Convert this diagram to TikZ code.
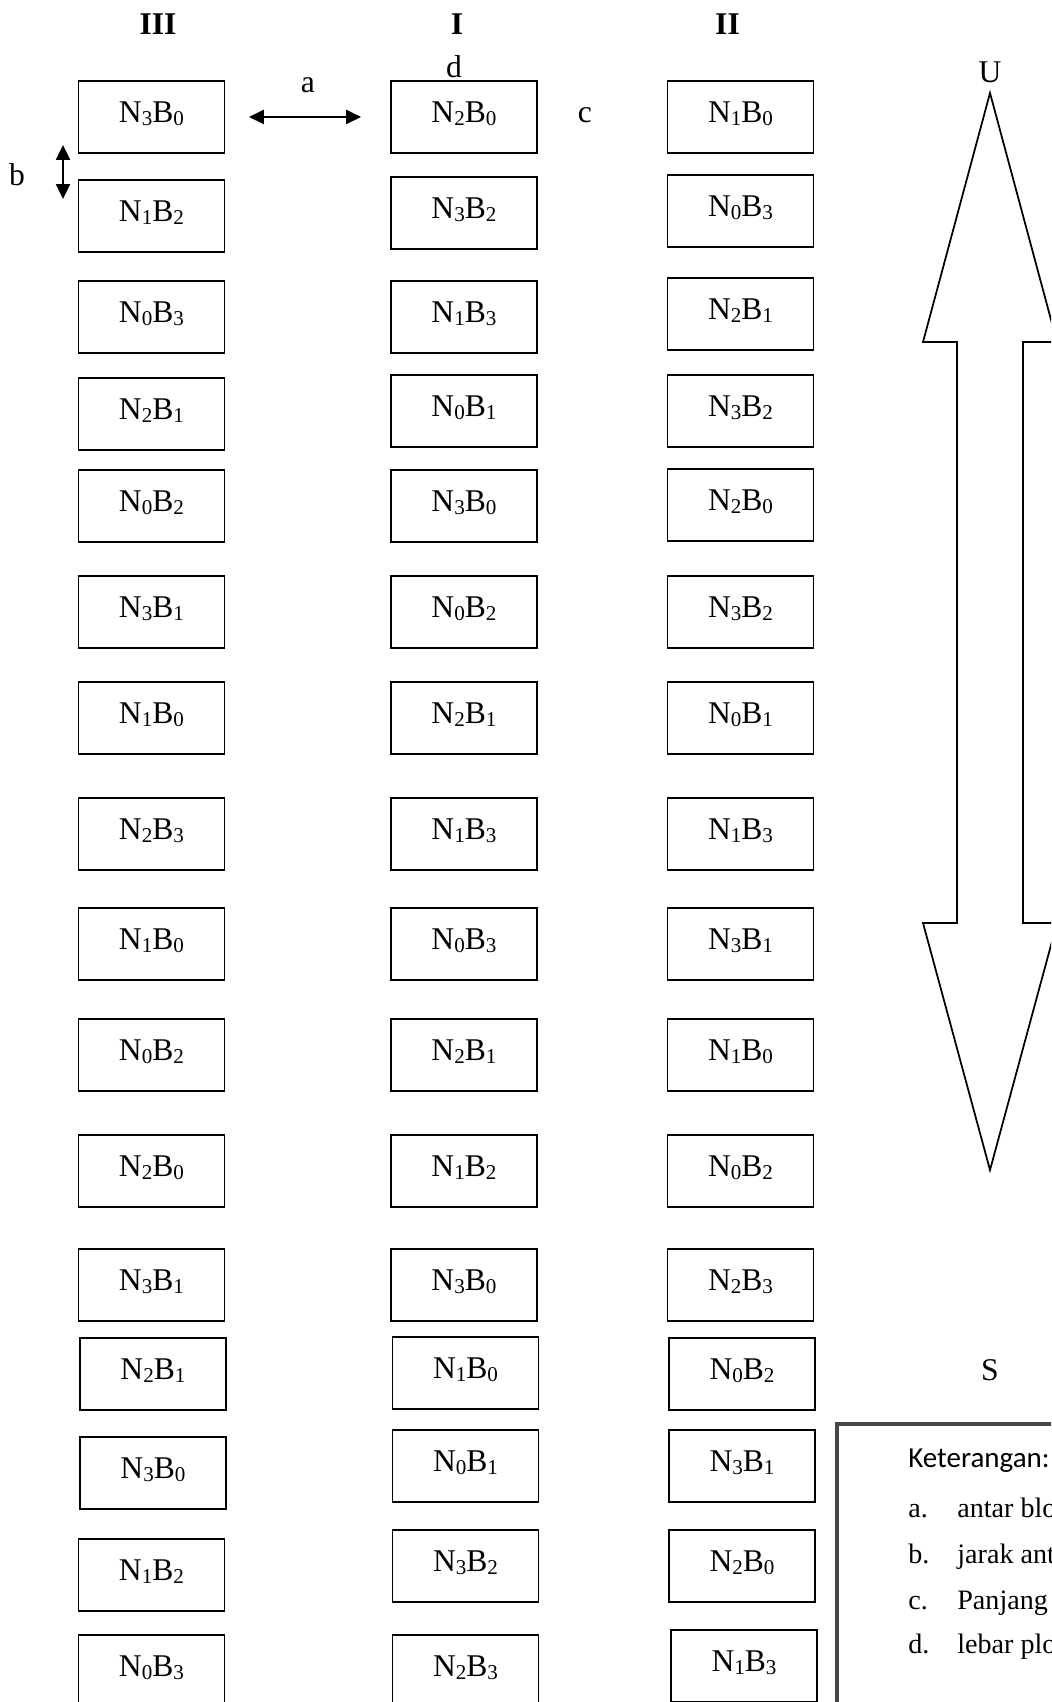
\documentclass[tikz,border=0pt]{standalone}
\usepackage{fontspec}
\setmainfont{Liberation Serif}
\newfontfamily\ketfont{Carlito}
\usetikzlibrary{arrows.meta}
\definecolor{ketgray}{RGB}{70,70,70}
\newcommand{\plotsub}[1]{\raisebox{-1.7pt}{\fontsize{12}{12}\selectfont #1}}

\begin{document}
\begin{tikzpicture}
[%%%%%%%%%%%%%%%%%%%%%%%%%%%%%%
x=0.02cm,y=-0.02cm,
plot/.style={rectangle,draw=black,line width=1.1pt,minimum width=2.92cm,minimum height=1.44cm,inner sep=0pt,text depth=5pt,anchor=north,font=\fontsize{18}{20}\selectfont},
lbl/.style={inner sep=0pt,font=\fontsize{18}{20}\selectfont},
head/.style={inner sep=0pt,font=\fontsize{18}{20}\selectfont\bfseries},
jarak/.style={{Triangle[length=8.5pt,width=8pt]}-{Triangle[length=8.5pt,width=8pt]},line width=1.1pt},
]%%%%%%%%%%%%%%%%%%%%%%%%%%%%%%
\useasboundingbox (0,0) rectangle (1051,1702);
\clip (0,0) rectangle (1051,1702);

% blok III
\foreach \x/\y/\n/\b [count=\i] in {151.5/80/3/0,151.5/179/1/2,151.5/280/0/3,151.5/377/2/1,151.5/469/0/2,151.5/575/3/1,151.5/681/1/0,151.5/797/2/3,151.5/907/1/0,151.5/1018/0/2,151.5/1134/2/0,151.5/1248/3/1,153/1337/2/1,153/1436/3/0,151.5/1538/1/2,151.5/1634/0/3}
\node[plot] (III-\i) at (\x,\y){N\plotsub{\n}B\plotsub{\b}};

% blok I
\foreach \x/\y/\n/\b [count=\i] in {464/80/2/0,464/176/3/2,464/280/1/3,464/374/0/1,464/469/3/0,464/575/0/2,464/681/2/1,464/797/1/3,464/907/0/3,464/1018/2/1,464/1134/1/2,464/1248/3/0,465.5/1336/1/0,465.5/1429/0/1,465.5/1529/3/2,465.5/1634/2/3}
\node[plot] (I-\i) at (\x,\y){N\plotsub{\n}B\plotsub{\b}};

% blok II
\foreach \x/\y/\n/\b [count=\i] in {740.5/80/1/0,740.5/174/0/3,740.5/277/2/1,740.5/374/3/2,740.5/468/2/0,740.5/575/3/2,740.5/681/0/1,740.5/797/1/3,740.5/907/3/1,740.5/1018/1/0,740.5/1134/0/2,740.5/1248/2/3,742/1337/0/2,742/1429/3/1,742/1529/2/0,744/1629/1/3}
\node[plot] (II-\i) at (\x,\y){N\plotsub{\n}B\plotsub{\b}};

\node[head] (h-III) at (158,24){III};
\node[head] (h-I) at (457,24){I};
\node[head] (h-II) at (727.5,24){II};

% ukuran
\draw[jarak,shorten <=0.47cm,shorten >=0.58cm] (III-1.east) -- (I-1.west);
\coordinate (b-top) at (63,145);
\coordinate (b-bot) at (63,199);
\draw[jarak] (b-top) -- (b-bot);
\node[lbl] (lbl-a) at (308,85){a};
\node[lbl] (lbl-b) at (17,175){b};
\node[lbl] (lbl-c) at (585,115){c};
\node[lbl] (lbl-d) at (454,67){d};

% arah utara-selatan
\draw[line width=1pt,line join=miter] (990,93) -- (1057,342) -- (1023,342) -- (1023,923) -- (1057,923)
 -- (990,1170) -- (923,923) -- (957,923) -- (957,342) -- (923,342) -- cycle;
\node[lbl] (lbl-U) at (990,72){U};
\node[lbl] (lbl-S) at (990,1370){S};

% keterangan
\draw[line width=2.4pt,draw=ketgray] (837,1424) rectangle (1120,1760);
\node[anchor=base west,inner sep=0pt,font=\ketfont\fontsize{16.5}{18}\selectfont] (ket) at (908,1467){Keterangan:};
\foreach \y/\k/\t in {1517/a./antar blok,1563/b./jarak antar plot,1609/c./Panjang plot,1653/d./lebar plot}{
\node[anchor=base west,inner sep=0pt,font=\fontsize{16}{18}\selectfont] at (908,\y){\k};
\node[anchor=base west,inner sep=0pt,font=\fontsize{16}{18}\selectfont] at (957,\y){\t};
}
\end{tikzpicture}
\end{document}
